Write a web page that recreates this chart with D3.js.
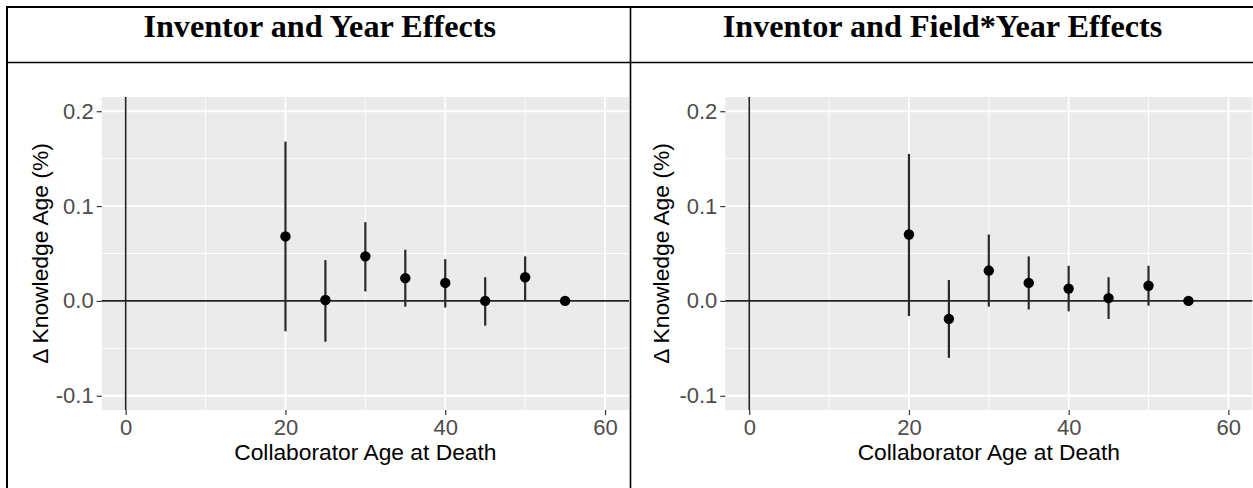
<!DOCTYPE html>
<html>
<head>
<meta charset="utf-8">
<script src="https://cdn.jsdelivr.net/npm/d3@7/dist/d3.min.js"></script>
<style>
  html, body { margin: 0; padding: 0; background: #fff; }
  svg { display: block; }
</style>
</head>
<body>
<svg id="chart" width="1253" height="488"></svg>
<script>
// ---------- data ----------
const ages = [20, 25, 30, 35, 40, 45, 50, 55];

const yearEst = [0.068, 0.001, 0.047, 0.024, 0.019, 0.000, 0.025, 0.000];
const yearLo  = [-0.032, -0.043, 0.010, -0.006, -0.007, -0.026, 0.001, 0.000];
const yearHi  = [0.168, 0.043, 0.083, 0.054, 0.044, 0.025, 0.047, 0.000];

const fieldEst = [0.070, -0.019, 0.032, 0.019, 0.013, 0.003, 0.016, 0.000];
const fieldLo  = [-0.016, -0.060, -0.006, -0.009, -0.011, -0.019, -0.005, 0.000];
const fieldHi  = [0.155, 0.022, 0.070, 0.047, 0.037, 0.025, 0.037, 0.000];

const panelTitles = ["Inventor and Year Effects", "Inventor and Field*Year Effects"];
const xTicks = [0, 20, 40, 60];
const xMinor = [10, 30, 50];
const yTicks = [-0.1, 0.0, 0.1, 0.2];
const yMinor = [-0.05, 0.05, 0.15];
const xDomain = [-3, 63];
const yDomain = [-0.115, 0.215];
const xTitle = "Collaborator Age at Death";
const yTitle = "\u0394 Knowledge Age (%)";

// ---------- layout ----------
const svg = d3.select("#chart");
svg.append("rect").attr("width", 1253).attr("height", 488).attr("fill", "#fff");

const colDiv = 630.5;
const panels = [
  { left: 101.7, right: 629, est: yearEst, lo: yearLo, hi: yearHi, titleX: 319.7, ytx: 48 },
  { left: 725.3, right: 1252.3, est: fieldEst, lo: fieldLo, hi: fieldHi, titleX: 942.5, ytx: 669 }
];
const pTop = 97, pBottom = 410;

// table borders
const borders = svg.append("g").attr("stroke", "#000").attr("fill", "none");
borders.append("line").attr("x1", 6).attr("x2", 1253).attr("y1", 7).attr("y2", 7).attr("stroke-width", 2);
borders.append("line").attr("x1", 7).attr("x2", 7).attr("y1", 6).attr("y2", 488).attr("stroke-width", 2);
borders.append("line").attr("x1", colDiv).attr("x2", colDiv).attr("y1", 6).attr("y2", 488).attr("stroke-width", 1.6);
borders.append("line").attr("x1", 6).attr("x2", 1253).attr("y1", 62.5).attr("y2", 62.5).attr("stroke-width", 1.6);

panels.forEach((p, i) => {
  const x = d3.scaleLinear().domain(xDomain).range([p.left, p.right]);
  const y = d3.scaleLinear().domain(yDomain).range([pBottom, pTop]);
  const g = svg.append("g");

  // header title
  svg.append("text")
    .attr("x", p.titleX).attr("y", 36.5)
    .attr("text-anchor", "middle")
    .attr("font-family", "'Liberation Serif', 'Times New Roman', serif")
    .attr("font-weight", "bold")
    .attr("font-size", 32.2)
    .attr("fill", "#000")
    .text(panelTitles[i]);

  // panel background
  g.append("rect")
    .attr("x", p.left).attr("y", pTop)
    .attr("width", p.right - p.left).attr("height", pBottom - pTop)
    .attr("fill", "#EBEBEB");

  // minor grid
  g.selectAll(".xmin").data(xMinor).enter().append("line")
    .attr("x1", d => x(d)).attr("x2", d => x(d)).attr("y1", pTop).attr("y2", pBottom)
    .attr("stroke", "#fff").attr("stroke-width", 0.9);
  g.selectAll(".ymin").data(yMinor).enter().append("line")
    .attr("y1", d => y(d)).attr("y2", d => y(d)).attr("x1", p.left).attr("x2", p.right)
    .attr("stroke", "#fff").attr("stroke-width", 0.9);
  // major grid
  g.selectAll(".xmaj").data(xTicks).enter().append("line")
    .attr("x1", d => x(d)).attr("x2", d => x(d)).attr("y1", pTop).attr("y2", pBottom)
    .attr("stroke", "#fff").attr("stroke-width", 1.8);
  g.selectAll(".ymaj").data(yTicks).enter().append("line")
    .attr("y1", d => y(d)).attr("y2", d => y(d)).attr("x1", p.left).attr("x2", p.right)
    .attr("stroke", "#fff").attr("stroke-width", 1.8);

  // reference lines at 0
  g.append("line")
    .attr("x1", x(0)).attr("x2", x(0)).attr("y1", pTop).attr("y2", pBottom)
    .attr("stroke", "#222").attr("stroke-width", 1.6);
  g.append("line")
    .attr("x1", p.left).attr("x2", p.right).attr("y1", y(0)).attr("y2", y(0))
    .attr("stroke", "#222").attr("stroke-width", 1.6);

  // error bars
  const rows = ages.map((a, k) => ({ a, est: p.est[k], lo: p.lo[k], hi: p.hi[k] }));
  g.selectAll(".err").data(rows.filter(r => r.hi > r.lo)).enter().append("line")
    .attr("x1", r => x(r.a)).attr("x2", r => x(r.a))
    .attr("y1", r => y(r.lo)).attr("y2", r => y(r.hi))
    .attr("stroke", "#2a2a2a").attr("stroke-width", 2.2);
  // points
  g.selectAll(".pt").data(rows).enter().append("circle")
    .attr("cx", r => x(r.a)).attr("cy", r => y(r.est)).attr("r", 5.2)
    .attr("fill", "#000");

  // axes
  const ax = g.append("g").attr("transform", `translate(0,${pBottom})`)
    .call(d3.axisBottom(x).tickValues(xTicks).tickSize(5).tickPadding(4).tickFormat(d3.format("d")));
  const ay = g.append("g").attr("transform", `translate(${p.left},0)`)
    .call(d3.axisLeft(y).tickValues(yTicks).tickSize(5).tickPadding(3).tickFormat(d => d.toFixed(1)));
  [ax, ay].forEach(a => {
    a.select(".domain").remove();
    a.selectAll(".tick line").attr("stroke", "#333").attr("stroke-width", 1.2);
    a.selectAll(".tick text")
      .attr("fill", "#4D4D4D")
      .attr("font-family", "'Liberation Sans', Arial, Helvetica, sans-serif")
      .attr("font-size", 22);
  });

  // axis titles
  g.append("text")
    .attr("x", (p.left + p.right) / 2).attr("y", 460)
    .attr("text-anchor", "middle")
    .attr("font-family", "'Liberation Sans', Arial, Helvetica, sans-serif")
    .attr("font-size", 22.8).attr("fill", "#000")
    .text(xTitle);
  g.append("text")
    .attr("transform", `translate(${p.ytx},${(pTop + pBottom) / 2}) rotate(-90)`)
    .attr("text-anchor", "middle")
    .attr("font-family", "'Liberation Sans', Arial, Helvetica, sans-serif")
    .attr("font-size", 22.8).attr("fill", "#000")
    .text(yTitle);
});
</script>
</body>
</html>
